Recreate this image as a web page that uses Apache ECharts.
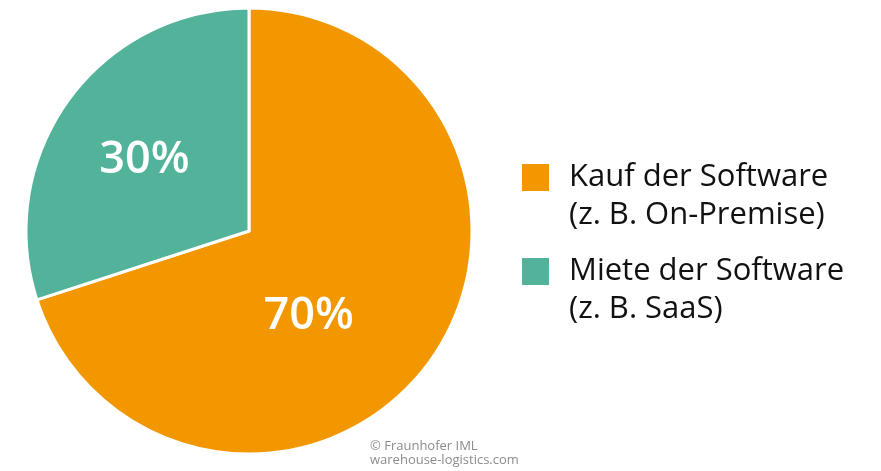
<!DOCTYPE html>
<html>
<head>
<meta charset="utf-8">
<script src="https://cdn.jsdelivr.net/npm/echarts@6/dist/echarts.min.js"></script>
<style>
html,body{margin:0;padding:0;background:#fff;}
#chart{width:881px;height:471px;}
</style>
</head>
<body>
<div id="chart"></div>
<script>
const categories = ['Kauf der Software\n(z. B. On-Premise)', 'Miete der Software\n(z. B. SaaS)'];
const values = [70, 30];
const colors = ['#F39700', '#52B39A'];
const labelOffsets = [[-33, 18], [-12, -4]];
const copyright = '© Fraunhofer IML\nwarehouse-logistics.com';

const FONT = '"Open Sans", "Noto Sans", sans-serif';
const chart = echarts.init(document.getElementById('chart'), null, {renderer: 'canvas'});

const legendBase = {
  orient: 'vertical',
  left: 520,
  padding: 0,
  icon: 'rect',
  itemWidth: 29,
  itemHeight: 29,
  formatter: name => '\n' + name,
  textStyle: {
    fontFamily: FONT,
    fontSize: 31,
    lineHeight: 38,
    color: '#111',
    padding: [0, 0, 0, 14]
  },
  selectedMode: false
};

chart.setOption({
  animation: false,
  backgroundColor: '#fff',
  color: colors,
  title: {
    text: copyright,
    left: 370,
    top: 439,
    padding: 0,
    textStyle: {fontFamily: FONT, fontSize: 13, fontWeight: 'normal', color: '#8c8c8c', lineHeight: 14}
  },
  legend: [
    Object.assign({}, legendBase, {data: [categories[0]], top: 120.5}),
    Object.assign({}, legendBase, {data: [categories[1]], top: 214.5})
  ],
  series: [{
    type: 'pie',
    center: [249, 231],
    radius: 223,
    startAngle: 90,
    clockwise: true,
    silent: true,
    itemStyle: {borderColor: '#fff', borderWidth: 3},
    label: {
      show: true,
      position: 'inside',
      formatter: '{c}%',
      color: '#fff',
      fontFamily: FONT,
      fontSize: 45,
      fontWeight: 600
    },
    labelLine: {show: false},
    emphasis: {disabled: true},
    data: categories.map((name, i) => ({
      name: name,
      value: values[i],
      label: {offset: labelOffsets[i]}
    }))
  }]
});
</script>
</body>
</html>
